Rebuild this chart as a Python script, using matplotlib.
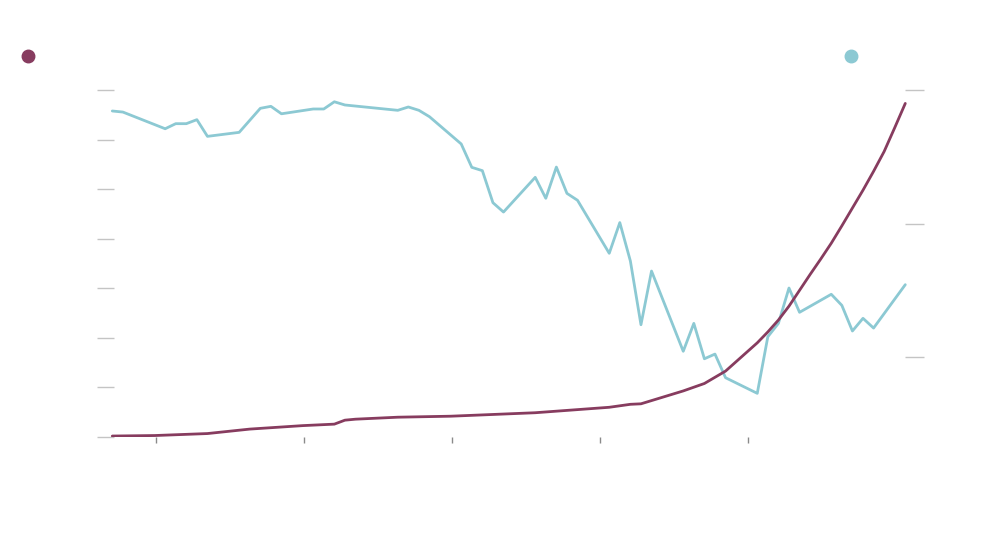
import matplotlib
matplotlib.use("Agg")
import matplotlib.pyplot as plt

# purple series (left axis), sampled at step index
purple_x = [0, 4, 9, 13, 18, 21, 22, 23, 27, 32, 40, 47, 49, 50, 52, 54, 56, 58,
            60, 61, 62, 63, 64, 65, 66, 67, 68, 69, 70, 71, 72, 73, 74, 75]
purple_y = [0.02, 0.03, 0.07, 0.16, 0.23, 0.26, 0.34, 0.36, 0.40, 0.42, 0.49, 0.60,
            0.66, 0.67, 0.80, 0.93, 1.08, 1.33, 1.71, 1.90, 2.12, 2.36, 2.64, 2.96,
            3.28, 3.59, 3.91, 4.26, 4.62, 4.98, 5.36, 5.76, 6.24, 6.73]

# teal series (right axis)
teal_x = [0, 1, 5, 6, 7, 8, 9, 12, 14, 15, 16, 19, 20, 21, 22, 27, 28, 29, 30, 33,
          34, 35, 36, 37, 40, 41, 42, 43, 44, 47, 48, 49, 50, 51, 54, 55, 56, 57, 58,
          61, 62, 63, 64, 65, 68, 69, 70, 71, 72, 75]
teal_y = [3.843, 3.835, 3.710, 3.748, 3.748, 3.778, 3.653, 3.683, 3.863, 3.878,
          3.822, 3.858, 3.858, 3.912, 3.888, 3.848, 3.873, 3.848, 3.800, 3.596,
          3.421, 3.396, 3.156, 3.086, 3.346, 3.189, 3.423, 3.226, 3.174, 2.777,
          3.007, 2.719, 2.242, 2.644, 2.043, 2.252, 1.987, 2.022, 1.845, 1.728,
          2.152, 2.252, 2.517, 2.335, 2.470, 2.387, 2.195, 2.290, 2.217, 2.542]

x_ticks = [4.13, 18.13, 32.13, 46.13, 60.13]
left_ticks = [0, 1, 2, 3, 4, 5, 6, 7]
right_ticks = [2, 3, 4]

PURPLE = "#873c5f"
TEAL = "#8cc9d3"

fig = plt.figure(figsize=(10, 5.34), dpi=100)
ax = fig.add_axes([0.097, 0.1816, 0.827, 0.6498])
ax2 = ax.twinx()

ax.plot(purple_x, purple_y, color=PURPLE, lw=2.0, zorder=3, solid_capstyle="round")
ax2.plot(teal_x, teal_y, color=TEAL, lw=2.0, solid_capstyle="round")
ax.set_zorder(ax2.get_zorder() + 1)
ax.patch.set_visible(False)

ax.set_xlim(-1.447, 76.77)
ax.set_ylim(0, 7)
ax2.set_ylim(4 - 347 / 133.5, 4)

for a in (ax, ax2):
    for s in a.spines.values():
        s.set_visible(False)

ax.set_xticks(x_ticks)
ax.set_yticks(left_ticks)
ax2.set_yticks(right_ticks)
ax.set_xticklabels([])
ax.set_yticklabels([])
ax2.set_yticklabels([])
ax.tick_params(axis="x", direction="out", length=4.5, width=1, color="#8a8a8a")
ax.tick_params(axis="y", direction="in", length=12.5, width=1, color="#c4c4c4")
ax2.tick_params(axis="y", direction="in", length=13.5, width=1, color="#c4c4c4")

# legend dots, no text
fig.add_artist(plt.Line2D([0.028], [1 - 56 / 534], marker="o", ms=9,
                          color=PURPLE, transform=fig.transFigure))
fig.add_artist(plt.Line2D([0.851], [1 - 56 / 534], marker="o", ms=9,
                          color=TEAL, transform=fig.transFigure))

fig.savefig("out.png", dpi=100)
